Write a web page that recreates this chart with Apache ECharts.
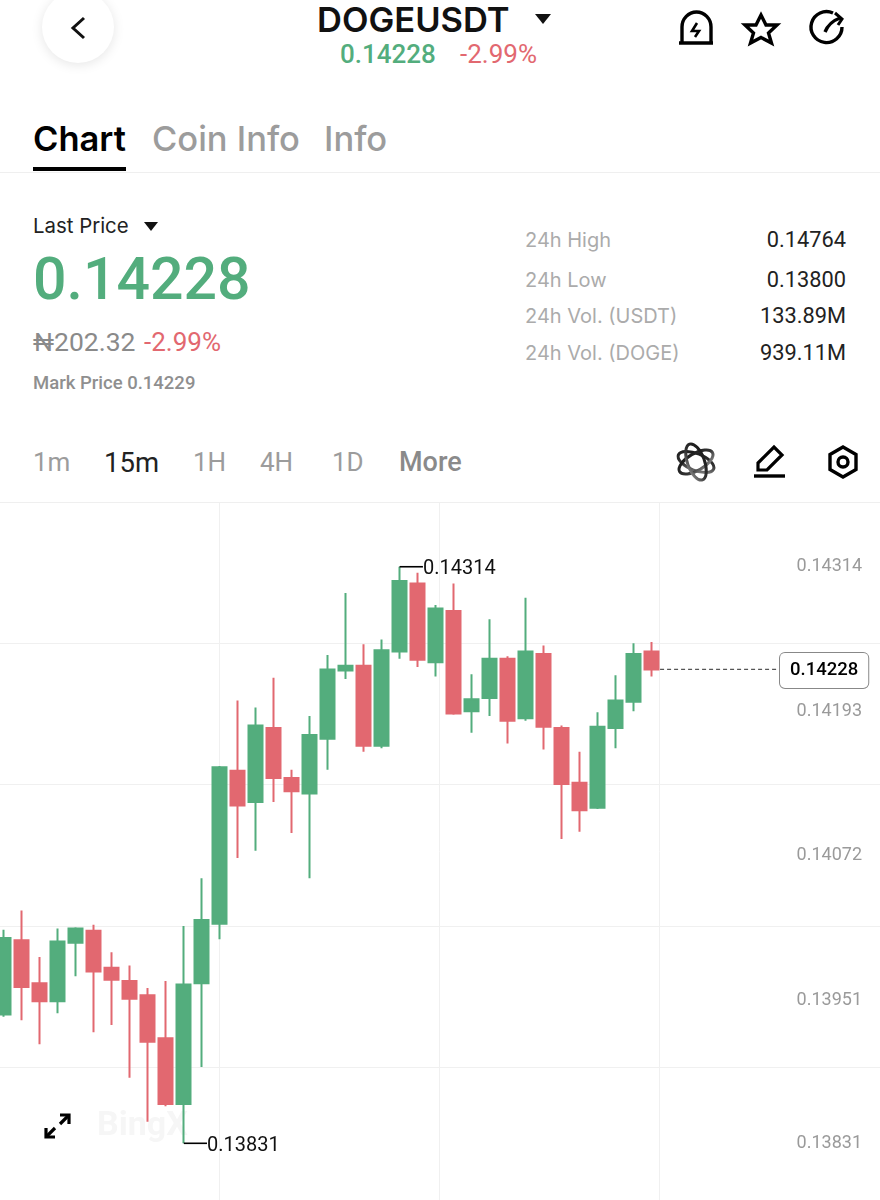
<!DOCTYPE html>
<html>
<head>
<meta charset="utf-8">
<title>DOGEUSDT</title>
<script src="https://cdn.jsdelivr.net/npm/echarts@6/dist/echarts.min.js"></script>
<style>
html,body{margin:0;padding:0;background:#fff;}
body{width:880px;height:1200px;overflow:hidden;position:relative;font-family:Roboto,sans-serif;}
.t{position:absolute;white-space:nowrap;line-height:1;}
.i{font-family:Inter,sans-serif;}
.r{text-align:right;}
#chart{position:absolute;left:0;top:503px;width:880px;height:697px;}
#icons{position:absolute;left:0;top:0;z-index:5;pointer-events:none;}
.hr{position:absolute;left:0;width:880px;height:1px;background:#efefef;}
#back{position:absolute;left:42px;top:-9px;width:72px;height:72px;border-radius:50%;background:#fff;box-shadow:0 2px 12px rgba(0,0,0,.10);}
</style>
</head>
<body>
<div id="back"></div>
<div class="t i" style="left:317px;top:3px;font-size:34.5px;font-weight:600;color:#111;">DOGEUSDT</div>
<div class="t" style="left:340px;top:41px;font-size:26px;font-weight:500;color:#53ad7d;">0.14228</div>
<div class="t" style="left:460px;top:41px;font-size:26px;font-weight:400;color:#e26870;">-2.99%</div>

<div class="t i" style="left:33px;top:122px;font-size:34.5px;font-weight:600;color:#000;">Chart</div>
<div class="t i" style="left:152px;top:122px;font-size:34.5px;font-weight:500;color:#9c9c9c;">Coin Info</div>
<div class="t i" style="left:324px;top:122px;font-size:34.5px;font-weight:500;color:#9c9c9c;">Info</div>
<div style="position:absolute;left:33px;top:167px;width:93px;height:4px;background:#000;"></div>
<div class="hr" style="top:172px;"></div>

<div class="t i" style="left:33px;top:216px;font-size:20.4px;color:#222;">Last Price</div>
<div class="t" style="left:33px;top:249px;font-size:59px;font-weight:500;color:#53ad7d;">0.14228</div>
<div class="t" style="left:33px;top:329px;font-size:26.5px;color:#8a8a8a;">₦202.32</div>
<div class="t" style="left:144px;top:329px;font-size:26px;color:#e26870;">-2.99%</div>
<div class="t" style="left:33px;top:374px;font-size:18.5px;font-weight:500;color:#8f8f8f;">Mark Price 0.14229</div>

<div class="t i" style="left:525px;top:230px;font-size:20px;color:#ababab;">24h High</div>
<div class="t i" style="left:525px;top:270px;font-size:20px;color:#ababab;">24h Low</div>
<div class="t i" style="left:525px;top:306px;font-size:20px;color:#ababab;">24h Vol. (USDT)</div>
<div class="t i" style="left:525px;top:343px;font-size:20px;color:#ababab;">24h Vol. (DOGE)</div>
<div class="t r" style="right:34px;top:229px;font-size:21.8px;color:#222;">0.14764</div>
<div class="t r" style="right:34px;top:269px;font-size:21.8px;color:#222;">0.13800</div>
<div class="t r" style="right:34px;top:305px;font-size:21.8px;color:#222;">133.89M</div>
<div class="t r" style="right:34px;top:342px;font-size:21.8px;color:#222;">939.11M</div>

<div class="t" style="left:33px;top:449px;font-size:26px;color:#9c9c9c;">1m</div>
<div class="t" style="left:104px;top:449px;font-size:27.5px;font-weight:400;color:#222;">15m</div>
<div class="t" style="left:193px;top:449px;font-size:26px;color:#9c9c9c;">1H</div>
<div class="t" style="left:260px;top:449px;font-size:26px;color:#9c9c9c;">4H</div>
<div class="t" style="left:332px;top:449px;font-size:26px;color:#9c9c9c;">1D</div>
<div class="t" style="left:399px;top:449px;font-size:27px;font-weight:500;color:#8a8a8a;">More</div>
<div class="hr" style="top:502px;"></div>

<div id="chart"></div>

<svg id="icons" width="880" height="1200" fill="none" stroke="#000" stroke-width="3.4">
	<defs>
		<linearGradient id="atom" gradientUnits="userSpaceOnUse" x1="690" y1="446" x2="700" y2="480">
			<stop offset="0" stop-color="#111"/><stop offset="0.55" stop-color="#333"/><stop offset="1" stop-color="#bbb"/>
		</linearGradient>
	</defs>
	<polyline points="84,18 73,28 84,38" stroke="#111" stroke-width="3"/>
	<polygon points="535,14 551,14 543,24" fill="#111" stroke="none"/>
	<polygon points="144,222 158,222 151,231" fill="#111" stroke="none"/>
	<!-- 告警 -->
	<path d="M682,43 V27 a14.5,15 0 0 1 29,0 V43"/><line x1="679" y1="43" x2="713" y2="43"/>
	<path d="M697,23 L692,31 H699 L695,37" stroke-width="2.6"/>
	<!-- 收藏 -->
	<polygon points="761,15 766,25 777,25 768.5,33 771.5,43 761,37.5 750.5,43 753.5,33 745,25 756,25" stroke-linejoin="miter"/>
	<!-- 分享 -->
	<path d="M833,13 A15.5,15.5 0 1 0 842,27"/><path d="M825,32 Q829,22 840,18"/><polyline points="835,13 842,19 838,25" stroke-width="3"/>
	<!-- 工具栏 -->
	<g stroke="url(#atom)" stroke-width="3">
		<ellipse cx="696" cy="462" rx="19" ry="8.5" transform="rotate(22 696 462)"/>
		<ellipse cx="696" cy="462" rx="19" ry="8.5" transform="rotate(-30 696 462)"/>
		<ellipse cx="696" cy="462" rx="19" ry="8.5" transform="rotate(70 696 462)"/>
	</g>
	<path d="M758,470 V463 L774,447 L782,455 L767,470 Z" stroke-width="3.2"/><line x1="754" y1="476" x2="785" y2="476"/>
	<polygon points="843,447 856,454.5 856,469.5 843,477 830,469.5 830,454.5"/><circle cx="843" cy="462" r="5"/>
	<!-- 全屏 -->
	<g stroke="#000" stroke-width="3.2">
		<line x1="47" y1="1136" x2="55" y2="1128"/><line x1="60" y1="1124" x2="68" y2="1116"/>
		<polyline points="46,1128 46,1137 55,1137"/><polyline points="60,1115 69,1115 69,1124"/>
	</g>
</svg>

<script>
// K线数据,从图上读的
var slots = [];
for (var s = 0; s < 50; s++) slots.push(String(s));
var opens = [0.13939,0.14001,0.13965,0.13950,0.13999,0.14009,0.13978,0.13967,0.13955,0.13919,0.13864,0.13965,0.14015,0.14143,0.14117,0.14179,0.14137,0.14124,0.14170,0.14227,0.14231,0.14164,0.14243,0.14300,0.14234,0.14277,0.14193,0.14204,0.14237,0.14187,0.14241,0.14179,0.14133,0.14112,0.14179,0.14201,0.14243];
var closes = [0.14003,0.13962,0.13950,0.14000,0.14011,0.13975,0.13968,0.13952,0.13916,0.13864,0.13964,0.14018,0.14146,0.14114,0.14181,0.14137,0.14126,0.14173,0.14228,0.14231,0.14164,0.14244,0.14302,0.14236,0.14279,0.14191,0.14203,0.14237,0.14185,0.14243,0.14180,0.14132,0.14110,0.14180,0.14202,0.14241,0.14228];
var lows = [0.13937,0.13934,0.13914,0.13940,0.13971,0.13924,0.13930,0.13886,0.13849,0.13862,0.13831,0.13895,0.14002,0.14070,0.14076,0.14117,0.14091,0.14053,0.14144,0.14220,0.14159,0.14162,0.14237,0.14230,0.14222,0.14190,0.14175,0.14189,0.14166,0.14185,0.14161,0.14086,0.14092,0.14111,0.14162,0.14193,0.14222];
var highs = [0.14010,0.14026,0.13987,0.14011,0.14012,0.14014,0.13991,0.13980,0.13961,0.13967,0.14013,0.14053,0.14147,0.14202,0.14196,0.14221,0.14144,0.14189,0.14240,0.14292,0.14249,0.14253,0.14314,0.14309,0.14282,0.14300,0.14224,0.14270,0.14239,0.14288,0.14248,0.14181,0.14159,0.14192,0.14223,0.14250,0.14251];

var tickLabels = [0.14314,0.14193,0.14072,0.13951,0.13831];
var gridPrices = [0.14250,0.14132,0.14013,0.13895];
var gridSlots = [12.46,24.69,36.93];

var lastPrice = 0.14228;
var lastPriceSlots = [36.99,43.66];
var highPrice = 0.14314;
var highSlots = [22.5,23.8];
var lowPrice = 0.13831;
var lowSlots = [10.5,11.79];

var GREEN = '#53ad7d', RED = '#e26870';
var candles = [];
for (var i = 0; i < opens.length; i++) {
	candles.push([opens[i], closes[i], lows[i], highs[i]]);
}

function priceLine(xs, price, color, type, label) {
	return {
		type: 'line',
		xAxisIndex: 1,
		data: [[xs[0], price], [xs[1], price]],
		symbol: 'none',
		silent: true,
		lineStyle: {color: color, width: type == 'solid' ? 1.6 : 1.4, type: type},
		endLabel: label
	};
}

var chart = echarts.init(document.getElementById('chart'));
chart.setOption({
	animation: false,
	grid: {left: -5, top: 0, width: 899, height: 697, outerBoundsMode: 'none'},
	graphic: [{
		type: 'text',
		z: -1,
		silent: true,
		left: 97,
		top: 606,
		style: {text: 'BingX', fill: '#f6f6f6', font: 'bold 34px Roboto'}
	}],
	xAxis: [{
		type: 'category',
		data: slots,
		axisLine: {show: false},
		axisTick: {show: false},
		axisLabel: {show: false},
		splitLine: {show: false}
	}, {
		type: 'value',
		min: 0,
		max: 50,
		axisLine: {show: false},
		axisTick: {show: false, customValues: gridSlots},
		axisLabel: {show: false},
		splitLine: {show: true, lineStyle: {color: '#f0f0f0', width: 1}}
	}],
	yAxis: {
		type: 'value',
		position: 'right',
		min: 0.137835,
		max: 0.143674,
		axisLine: {show: false},
		axisTick: {show: false, customValues: gridPrices},
		axisLabel: {
			inside: true,
			margin: 32,
			customValues: tickLabels,
			color: '#9a9a9a',
			fontFamily: 'Roboto',
			fontSize: 18,
			padding: [0, 0, 3, 0],
			formatter: function(v) { return v.toFixed(5); }
		},
		splitLine: {show: true, lineStyle: {color: '#f0f0f0', width: 1}}
	},
	series: [{
		type: 'candlestick',
		data: candles,
		barWidth: 14.5,
		itemStyle: {color: GREEN, color0: RED, borderColor: GREEN, borderColor0: RED, borderWidth: 2}
	},
	priceLine(lastPriceSlots, lastPrice, '#555', [4, 3], {
		show: true,
		distance: 0,
		offset: [0, 1],
		formatter: function(p) { return p.value[1].toFixed(5); },
		color: '#000',
		fontFamily: 'Roboto',
		fontWeight: 500,
		fontSize: 18.5,
		backgroundColor: '#fff',
		borderColor: '#888',
		borderWidth: 1,
		borderRadius: 5,
		padding: [9, 10, 7, 10]
	}),
	priceLine(highSlots, highPrice, '#000', 'solid', {
		show: true,
		distance: 0,
		offset: [0, 2],
		formatter: function(p) { return p.value[1].toFixed(5); },
		color: '#111',
		fontFamily: 'Roboto',
		fontSize: 20
	}),
	priceLine(lowSlots, lowPrice, '#000', 'solid', {
		show: true,
		distance: 0,
		offset: [0, 3],
		formatter: function(p) { return p.value[1].toFixed(5); },
		color: '#111',
		fontFamily: 'Roboto',
		fontSize: 20
	})]
});
</script>
</body>
</html>
